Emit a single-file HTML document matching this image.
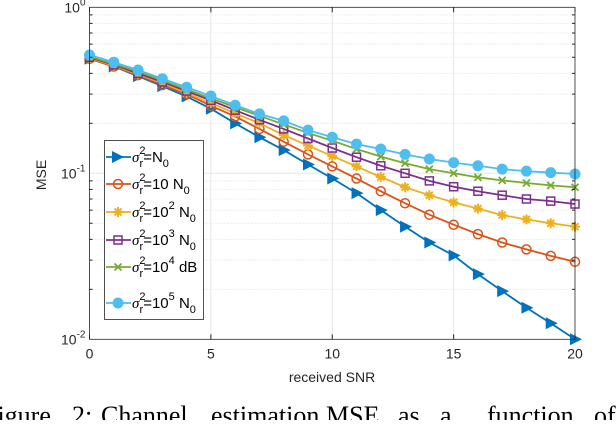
<!DOCTYPE html>
<html><head><meta charset="utf-8"><style>
body{margin:0;background:#fff;width:616px;height:420px;overflow:hidden}
svg text{font-family:"Liberation Sans",sans-serif}
</style></head><body>
<svg id="chart" width="616" height="420" xmlns="http://www.w3.org/2000/svg">
<g id="grid"></g>
<g id="series"></g>
<g id="axes"></g>
<text x="332" y="382" font-size="14" text-anchor="middle" fill="#262626">received SNR</text>
<text transform="translate(46,175) rotate(-90)" font-size="14" text-anchor="middle" fill="#262626">MSE</text>
<g id="legend"></g>
<text y="424" font-size="26" fill="#000" style="font-family:'Liberation Serif',serif"><tspan x="-17">Figure</tspan><tspan x="72">2:</tspan><tspan x="101">Channel</tspan><tspan x="211">estimation</tspan><tspan x="326">MSE</tspan><tspan x="398">as</tspan><tspan x="440">a</tspan><tspan x="487">function</tspan><tspan x="594">of</tspan></text>
</svg>
<script>
const snr=[0,1,2,3,4,5,6,7,8,9,10,11,12,13,14,15,16,17,18,19,20];
const s1=[0.49,0.44,0.385,0.335,0.29,0.245,0.20,0.165,0.138,0.113,0.093,0.076,0.06,0.0477,0.0383,0.032,0.0247,0.0195,0.0155,0.0125,0.01];
const s2=[0.49,0.44,0.39,0.34,0.30,0.255,0.22,0.185,0.155,0.13,0.11,0.093,0.078,0.066,0.0563,0.049,0.043,0.0383,0.0348,0.0318,0.0293];
const s3=[0.495,0.445,0.395,0.35,0.305,0.265,0.23,0.20,0.17,0.147,0.127,0.11,0.095,0.0824,0.0738,0.0668,0.0613,0.056,0.0528,0.050,0.0477];
const s4=[0.5,0.45,0.40,0.355,0.313,0.275,0.24,0.21,0.185,0.162,0.142,0.125,0.111,0.1,0.09,0.083,0.078,0.0738,0.070,0.068,0.0653];
const s5=[0.505,0.455,0.41,0.362,0.32,0.283,0.25,0.222,0.197,0.175,0.157,0.14,0.126,0.115,0.106,0.1,0.0945,0.0907,0.0874,0.0846,0.0824];
const s6=[0.516,0.467,0.419,0.371,0.33,0.292,0.257,0.228,0.207,0.182,0.165,0.15,0.14,0.13,0.122,0.116,0.111,0.106,0.103,0.101,0.099];
const xTicks=[0,5,10,15,20];
const yTicks=[-2,-1,0];
const legendLabels=[["=N",""],["=10 N",""],["=10","2"],["=10","3"],["=10","4"],["=10","5"]];
const NS="http://www.w3.org/2000/svg";
const X0=89.5,X1=575,Y0=339.3,DEC=166;
const xs=v=>X0+(v-0)/(20-0)*(X1-X0);
const ys=v=>Y0-(Math.log10(v)+2)*DEC;
function mk(t,a,p){const e=document.createElementNS(NS,t);for(const k in a)e.setAttribute(k,a[k]);(p||document.getElementById('chart')).appendChild(e);return e;}
const grid=document.getElementById('grid'),axes=document.getElementById('axes'),ser=document.getElementById('series'),leg=document.getElementById('legend');
for(let d=-2;d<0;d++)for(let m=2;m<=9;m++){const y=ys(m*Math.pow(10,d));
const l=mk('line',{x1:X0,x2:X1,y1:y,y2:y,stroke:'#dcdcdc','stroke-width':1,'stroke-dasharray':'1,2'},grid);

}
for(const t of xTicks){if(t===0||t===20)continue;const x=xs(t);
const l=mk('line',{x1:x,x2:x,y1:ys(1),y2:Y0,stroke:'#e6e6e6','stroke-width':1},grid);

}
mk('line',{x1:X0,x2:X1,y1:ys(0.1),y2:ys(0.1),stroke:'#e6e6e6'},grid);
const box=mk('rect',{x:X0,y:ys(1),width:X1-X0,height:Y0-ys(1),fill:'none',stroke:'#262626','stroke-width':0.8},axes);


for(const t of xTicks){const x=xs(t);
mk('line',{x1:x,x2:x,y1:Y0,y2:Y0-5,stroke:'#262626'},axes);
mk('line',{x1:x,x2:x,y1:ys(1),y2:ys(1)+5,stroke:'#262626'},axes);
const tx=mk('text',{x:x,y:Y0+19,'font-size':14,'text-anchor':'middle',fill:'#262626'},axes);tx.textContent=t;

}
for(const t of yTicks){const y=ys(Math.pow(10,t));
const tx=mk('text',{x:X0-4,y:y+5,'font-size':14,'text-anchor':'end',fill:'#262626'},axes);
tx.innerHTML='10<tspan dy="-7" font-size="10">'+t+'</tspan>';

}
for(let d=-2;d<0;d++)for(let m=2;m<=9;m++){const y=ys(m*Math.pow(10,d));
mk('line',{x1:X0,x2:X0+3,y1:y,y2:y,stroke:'#262626'},axes);mk('line',{x1:X1,x2:X1-3,y1:y,y2:y,stroke:'#262626'},axes);}
const colors=['#0072bd','#d95319','#edb120','#7e2f8e','#77ac30','#4dbeee'];
const data=[s1,s2,s3,s4,s5,s6];
function marker(i,x,y,g){const c=colors[i];
if(i===0)return mk('path',{d:`M${x-5},${y-6}L${x+7},${y}L${x-5},${y+6}Z`,fill:c},g);
if(i===1)return mk('circle',{cx:x,cy:y,r:4.5,fill:'none',stroke:c,'stroke-width':1.5},g);
if(i===2)return mk('path',{d:`M${x-5},${y}H${x+5}M${x},${y-5}V${y+5}M${x-3.5},${y-3.5}L${x+3.5},${y+3.5}M${x-3.5},${y+3.5}L${x+3.5},${y-3.5}`,stroke:c,'stroke-width':2},g);
if(i===3)return mk('rect',{x:x-4,y:y-4,width:8,height:8,fill:'none',stroke:c,'stroke-width':1.5},g);
if(i===4)return mk('path',{d:`M${x-3.5},${y-3.5}L${x+3.5},${y+3.5}M${x-3.5},${y+3.5}L${x+3.5},${y-3.5}`,stroke:c,'stroke-width':1.8},g);
return mk('circle',{cx:x,cy:y,r:5.5,fill:c},g);}
data.forEach((arr,i)=>{const g=mk('g',{},ser);


const pl=mk('polyline',{points:arr.map((v,k)=>xs(snr[k])+','+ys(v)).join(' '),fill:'none',stroke:colors[i],'stroke-width':1.8},g);


arr.forEach((v,k)=>{const m=marker(i,xs(snr[k]),ys(v),g);

});});
const lb=mk('rect',{x:104.5,y:140.5,width:99,height:179,fill:'#fff',stroke:'#262626','stroke-width':0.8},leg);


const ly=[157,184,212,240,267,303];
legendLabels.forEach((lab,i)=>{const g=mk('g',{},leg);


const y=ly[i];mk('line',{x1:106,x2:131,y1:y,y2:y,stroke:colors[i],'stroke-width':1.8},g);
const m=marker(i,118,y,g);if(i===0)m.setAttribute('d',`M112,${y-6}L124,${y}L112,${y+6}Z`);
const t=mk('text',{x:132,y:y+5,'font-size':15,fill:'#000'},g);
let s='<tspan font-style="italic" style="font-family:\'Liberation Serif\',serif">σ</tspan><tspan dy="-8" font-size="11">2</tspan><tspan dx="-6" dy="13" font-size="11">r</tspan><tspan dy="-5">'+lab[0]+'</tspan>';
if(i<2)s+='<tspan dy="5" font-size="11">0</tspan>';
else{s+='<tspan dy="-8" font-size="11">'+lab[1]+'</tspan><tspan dy="8"> '+(i===4?'dB':'N')+'</tspan>';if(i!==4)s+='<tspan dy="5" font-size="11">0</tspan>';}
t.innerHTML=s;});
</script>
</body></html>
